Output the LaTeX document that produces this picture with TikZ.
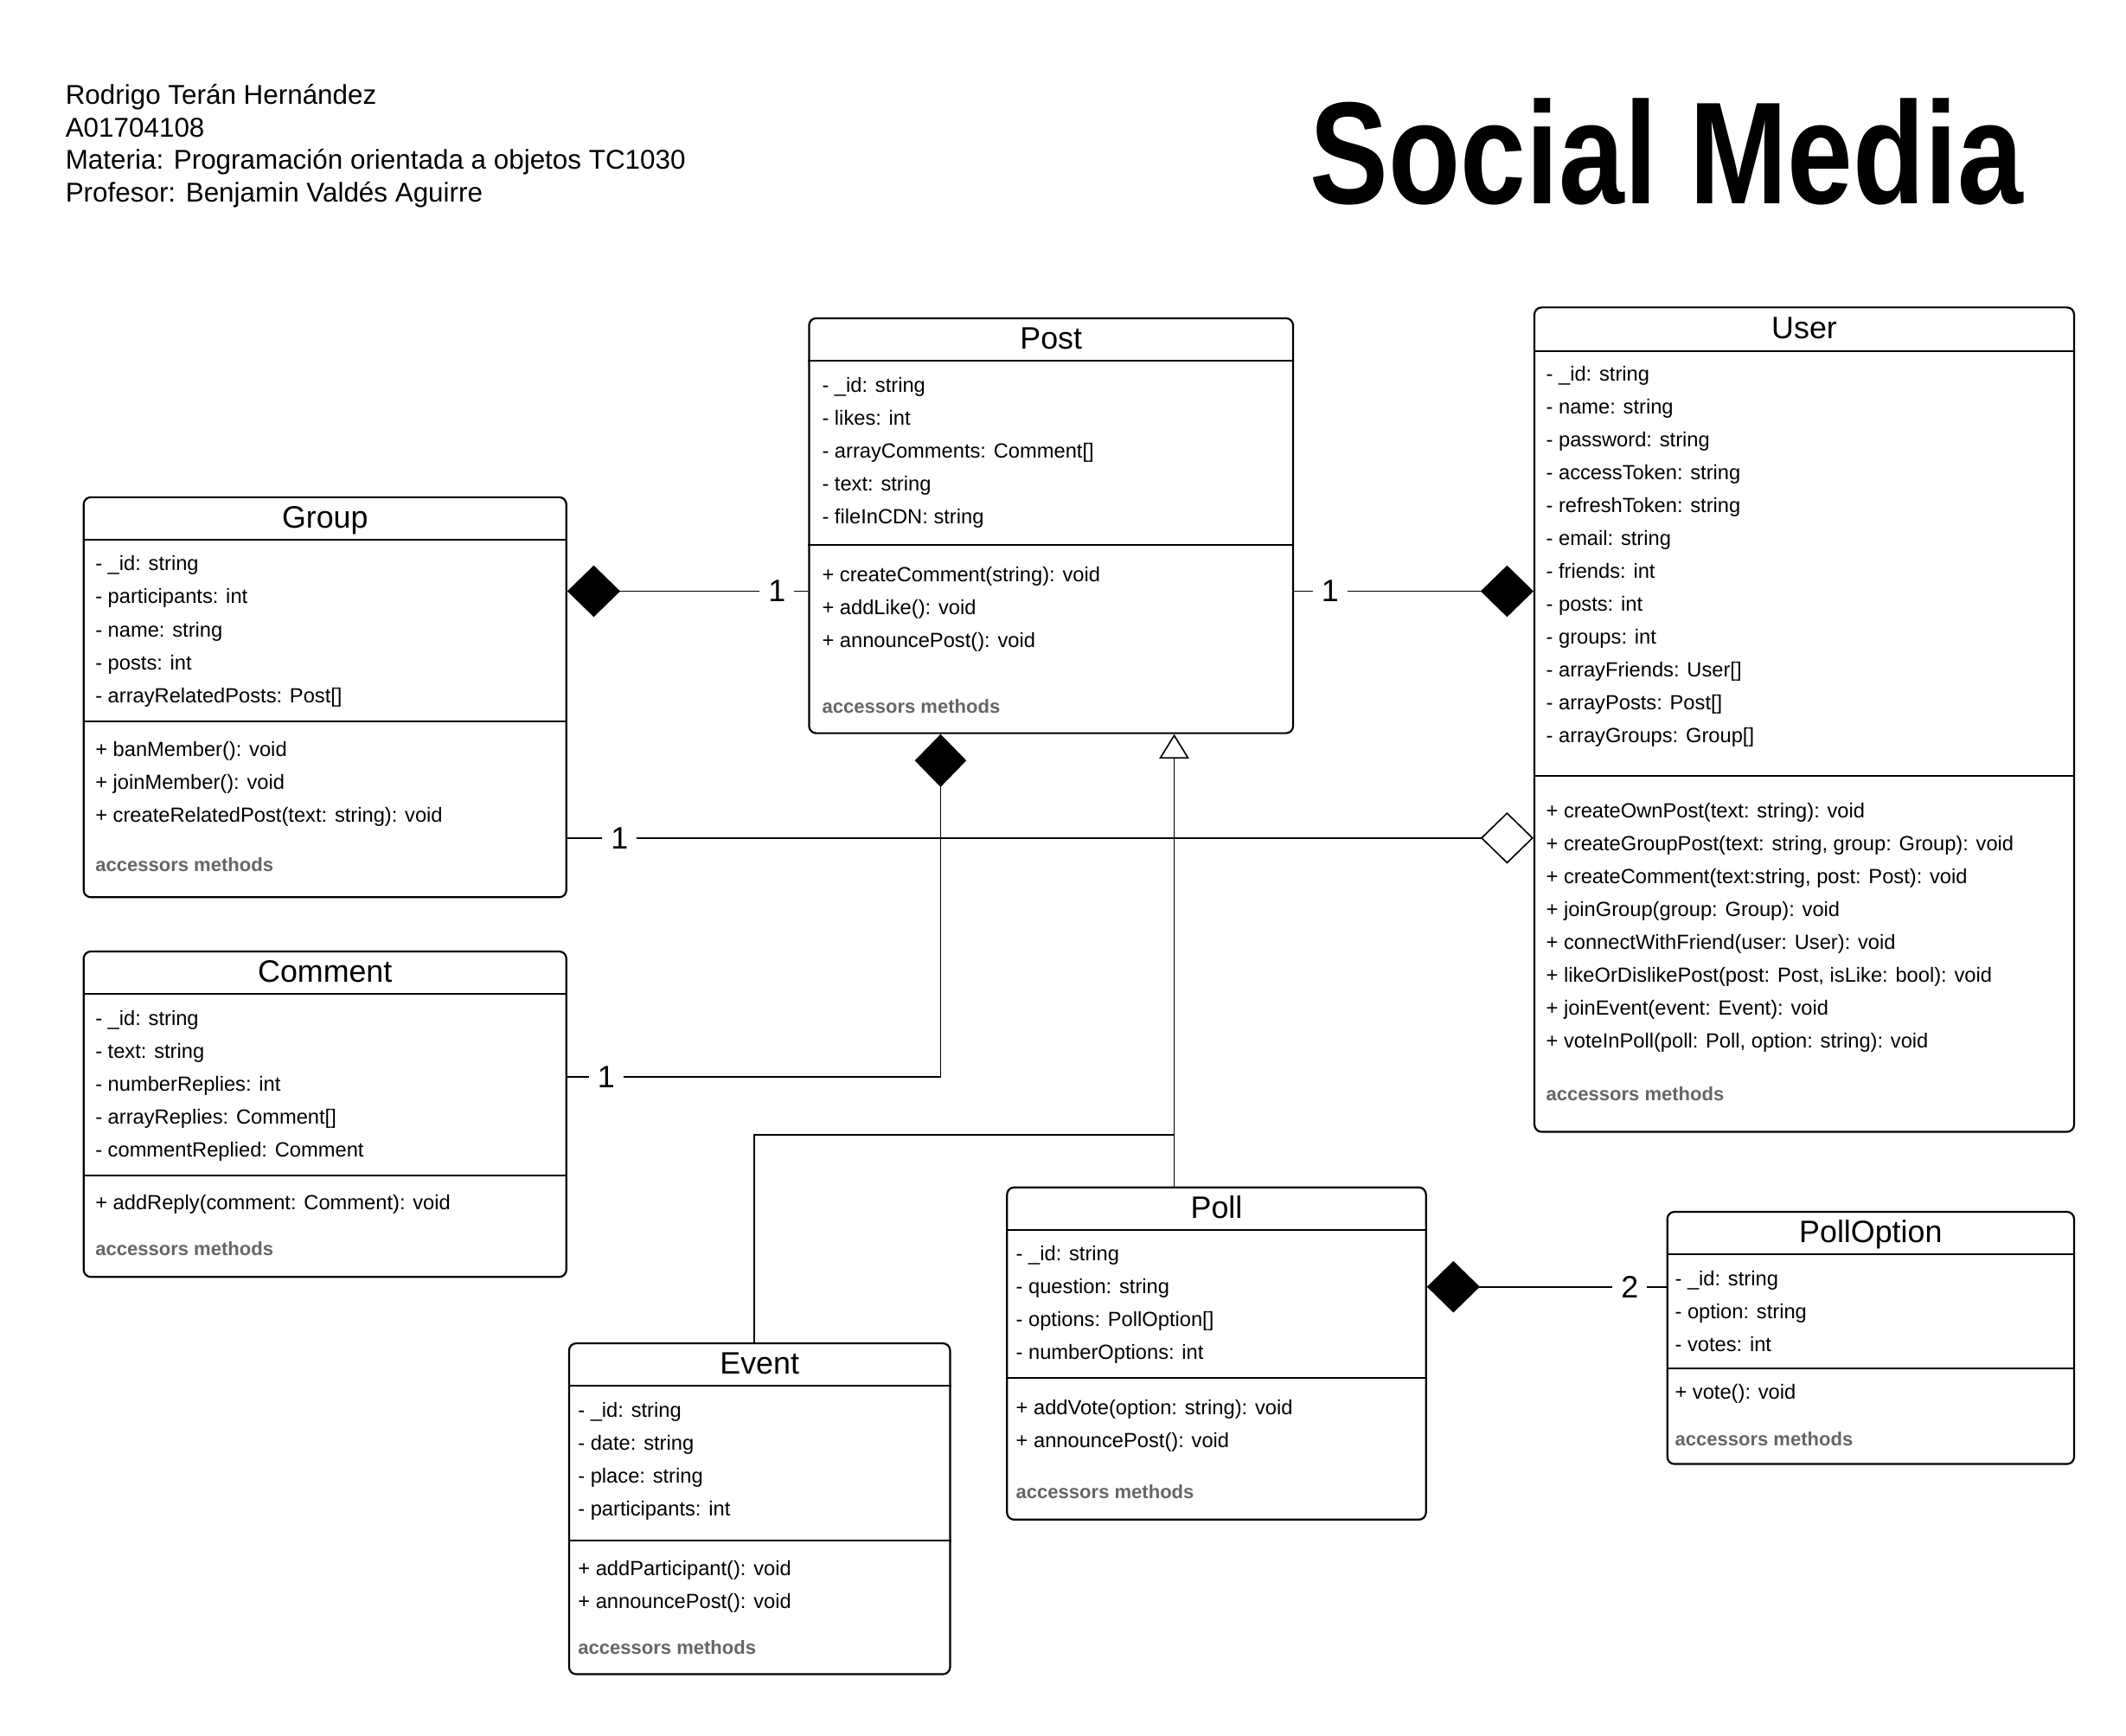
\documentclass[tikz,border=0pt]{standalone}
\usepackage{fontspec}
\setmainfont{Liberation Sans}
\newfontfamily\titlefamily[FakeStretch=0.81]{Liberation Sans}
\usetikzlibrary{arrows.meta}
\usetikzlibrary{positioning}
\definecolor{accgray}{HTML}{666666}

\begin{document}
\begin{tikzpicture}[
      x = 0.2mm, y = -0.2mm,
      umlclass/.style = {
        draw = black, line width = 0.8pt,
        rounded corners = 3pt,
        anchor = north west, inner sep = 0pt
      },
      classname/.style = {
        anchor = base, inner sep = 0pt,
        font = \fontsize{13}{15}\selectfont
      },
      members/.style = {
        anchor = base west, align = left, inner sep = 0pt,
        font = \fontsize{8.6}{13.8}\selectfont
      },
      accessors/.style = {
        anchor = base west, inner sep = 0pt, text = accgray,
        font = \bfseries\fontsize{8}{10}\selectfont
      },
      sep/.style = { line width = 0.8pt },
      assoc/.style = { line width = 0.6pt },
      comp/.style = { -{Diamond[length=7.8mm, width=7.6mm]} },
      aggr/.style = { -{Diamond[open, fill=white, length=7.8mm, width=7.6mm]} },
      inherit/.style = { -{Triangle[open, fill=white, length=3.6mm, width=4.4mm]} },
      mult/.style = { inner sep = 1.2mm, font = \fontsize{13}{15}\selectfont },
    ]

    \useasboundingbox (0,0) rectangle (1568,1280);

    % header (multi-line nodes sit on the baseline of their last line)
    \node[members, font = \fontsize{11.4}{13.66}\selectfont] (author) at (48,{77+3*24})
      {Rodrigo Terán Hernández\\A01704108\\Materia: Programación orientada a objetos TC1030\\Profesor: Benjamin Valdés Aguirre};
    \node[anchor = base west, inner sep = 0pt,
      font = \titlefamily\bfseries\fontsize{61}{61}\selectfont] (title) at (966,150) {Social Media};

    % Post
    \node[umlclass, minimum width = 71.4mm, minimum height = 61.2mm] (post) at (596,234) {};
    \node[classname] (post-name) at ([yshift=-4.7mm]post.north) {Post};
    \draw[sep] (post.west |- 0,266) -- (post.east |- 0,266);
    \draw[sep] (post.west |- 0,402) -- (post.east |- 0,402);
    \node[members] (post-attr) at (606,{289+4*24.25})
      {- \_id: string\\- likes: int\\- arrayComments: Comment[]\\- text: string\\- fileInCDN: string};
    \node[members] (post-meth) at (606,{429+2*24.25})
      {+ createComment(string): void\\+ addLike(): void\\+ announcePost(): void};
    \node[accessors] (post-acc) at (606,526) {accessors methods};

    % User
    \node[umlclass, minimum width = 79.6mm, minimum height = 121.6mm] (user) at (1131,226) {};
    \node[classname] (user-name) at ([yshift=-4.7mm]user.north) {User};
    \draw[sep] (user.west |- 0,259) -- (user.east |- 0,259);
    \draw[sep] (user.west |- 0,572) -- (user.east |- 0,572);
    \node[members] (user-attr) at (1140,{281+11*24.25})
      {- \_id: string\\- name: string\\- password: string\\- accessToken: string\\- refreshToken: string\\- email: string\\- friends: int\\- posts: int\\- groups: int\\- arrayFriends: User[]\\- arrayPosts: Post[]\\- arrayGroups: Group[]};
    \node[members] (user-meth) at (1140,{603+7*24.25})
      {+ createOwnPost(text: string): void\\+ createGroupPost(text: string, group: Group): void\\+ createComment(text:string, post: Post): void\\+ joinGroup(group: Group): void\\+ connectWithFriend(user: User): void\\+ likeOrDislikePost(post: Post, isLike: bool): void\\+ joinEvent(event: Event): void\\+ voteInPoll(poll: Poll, option: string): void};
    \node[accessors] (user-acc) at (1140,812) {accessors methods};

    % Group
    \node[umlclass, minimum width = 71.2mm, minimum height = 59mm] (group) at (61,366) {};
    \node[classname] (group-name) at ([yshift=-4.7mm]group.north) {Group};
    \draw[sep] (group.west |- 0,398) -- (group.east |- 0,398);
    \draw[sep] (group.west |- 0,532) -- (group.east |- 0,532);
    \node[members] (group-attr) at (70,{421+4*24.25})
      {- \_id: string\\- participants: int\\- name: string\\- posts: int\\- arrayRelatedPosts: Post[]};
    \node[members] (group-meth) at (70,{558+2*24.25})
      {+ banMember(): void\\+ joinMember(): void\\+ createRelatedPost(text: string): void};
    \node[accessors] (group-acc) at (70,643) {accessors methods};

    % Comment
    \node[umlclass, minimum width = 71.2mm, minimum height = 48mm] (comment) at (61,701) {};
    \node[classname] (comment-name) at ([yshift=-4.7mm]comment.north) {Comment};
    \draw[sep] (comment.west |- 0,733) -- (comment.east |- 0,733);
    \draw[sep] (comment.west |- 0,867) -- (comment.east |- 0,867);
    \node[members] (comment-attr) at (70,{756+4*24.25})
      {- \_id: string\\- text: string\\- numberReplies: int\\- arrayReplies: Comment[]\\- commentReplied: Comment};
    \node[members] (comment-meth) at (70,892) {+ addReply(comment: Comment): void};
    \node[accessors] (comment-acc) at (70,926) {accessors methods};

    % Event
    \node[umlclass, minimum width = 56.2mm, minimum height = 48.8mm] (event) at (419,990) {};
    \node[classname] (event-name) at ([yshift=-4.7mm]event.north) {Event};
    \draw[sep] (event.west |- 0,1022) -- (event.east |- 0,1022);
    \draw[sep] (event.west |- 0,1136) -- (event.east |- 0,1136);
    \node[members] (event-attr) at (426,{1045+3*24.25})
      {- \_id: string\\- date: string\\- place: string\\- participants: int};
    \node[members] (event-meth) at (426,{1162+24.25})
      {+ addParticipant(): void\\+ announcePost(): void};
    \node[accessors] (event-acc) at (426,1220) {accessors methods};

    % Poll
    \node[umlclass, minimum width = 61.8mm, minimum height = 49mm] (poll) at (742,875) {};
    \node[classname] (poll-name) at ([yshift=-4.7mm]poll.north) {Poll};
    \draw[sep] (poll.west |- 0,907) -- (poll.east |- 0,907);
    \draw[sep] (poll.west |- 0,1016) -- (poll.east |- 0,1016);
    \node[members] (poll-attr) at (749,{930+3*24.25})
      {- \_id: string\\- question: string\\- options: PollOption[]\\- numberOptions: int};
    \node[members] (poll-meth) at (749,{1043+24.25})
      {+ addVote(option: string): void\\+ announcePost(): void};
    \node[accessors] (poll-acc) at (749,1105) {accessors methods};

    % PollOption
    \node[umlclass, minimum width = 60mm, minimum height = 37.2mm] (polloption) at (1229,893) {};
    \node[classname] (polloption-name) at ([yshift=-4.7mm]polloption.north) {PollOption};
    \draw[sep] (polloption.west |- 0,925) -- (polloption.east |- 0,925);
    \draw[sep] (polloption.west |- 0,1009) -- (polloption.east |- 0,1009);
    \node[members] (polloption-attr) at (1235,{948+2*24.25})
      {- \_id: string\\- option: string\\- votes: int};
    \node[members] (polloption-meth) at (1235,1032) {+ vote(): void};
    \node[accessors] (polloption-acc) at (1235,1066) {accessors methods};

    % multiplicities
    \node[mult] (m-group-post)   at (573,436)  {1};
    \node[mult] (m-post-user)    at (981,436)  {1};
    \node[mult] (m-group-user)   at (457,618)  {1};
    \node[mult] (m-comment-post) at (447,794)  {1};
    \node[mult] (m-poll-option)  at (1202,949) {2};

    % relations
    \draw[assoc, comp] (m-group-post) -- (group.east |- m-group-post);
    \draw[assoc] (m-group-post) -- (post.west |- m-group-post);

    \draw[assoc] (m-post-user) -- (post.east |- m-post-user);
    \draw[assoc, comp] (m-post-user) -- (user.west |- m-post-user);

    \draw[assoc] (m-group-user) -- (group.east |- m-group-user);
    \draw[assoc, aggr] (m-group-user) -- (user.west |- m-group-user);

    \draw[assoc] (m-comment-post) -- (comment.east |- m-comment-post);
    \draw[assoc, comp] (m-comment-post) -| ([xshift=-16.3mm]post.south);

    \draw[assoc] (m-poll-option) -- (polloption.west |- m-poll-option);
    \draw[assoc, comp] (m-poll-option) -- (poll.east |- m-poll-option);

    % generalization
    \coordinate (gen-join) at (866,837);
    \draw[assoc, inherit] (poll.north -| gen-join) -- (post.south -| gen-join);
    \draw[assoc] ([xshift=-0.8mm]event.north) |- (gen-join);
  \end{tikzpicture}
\end{document}
